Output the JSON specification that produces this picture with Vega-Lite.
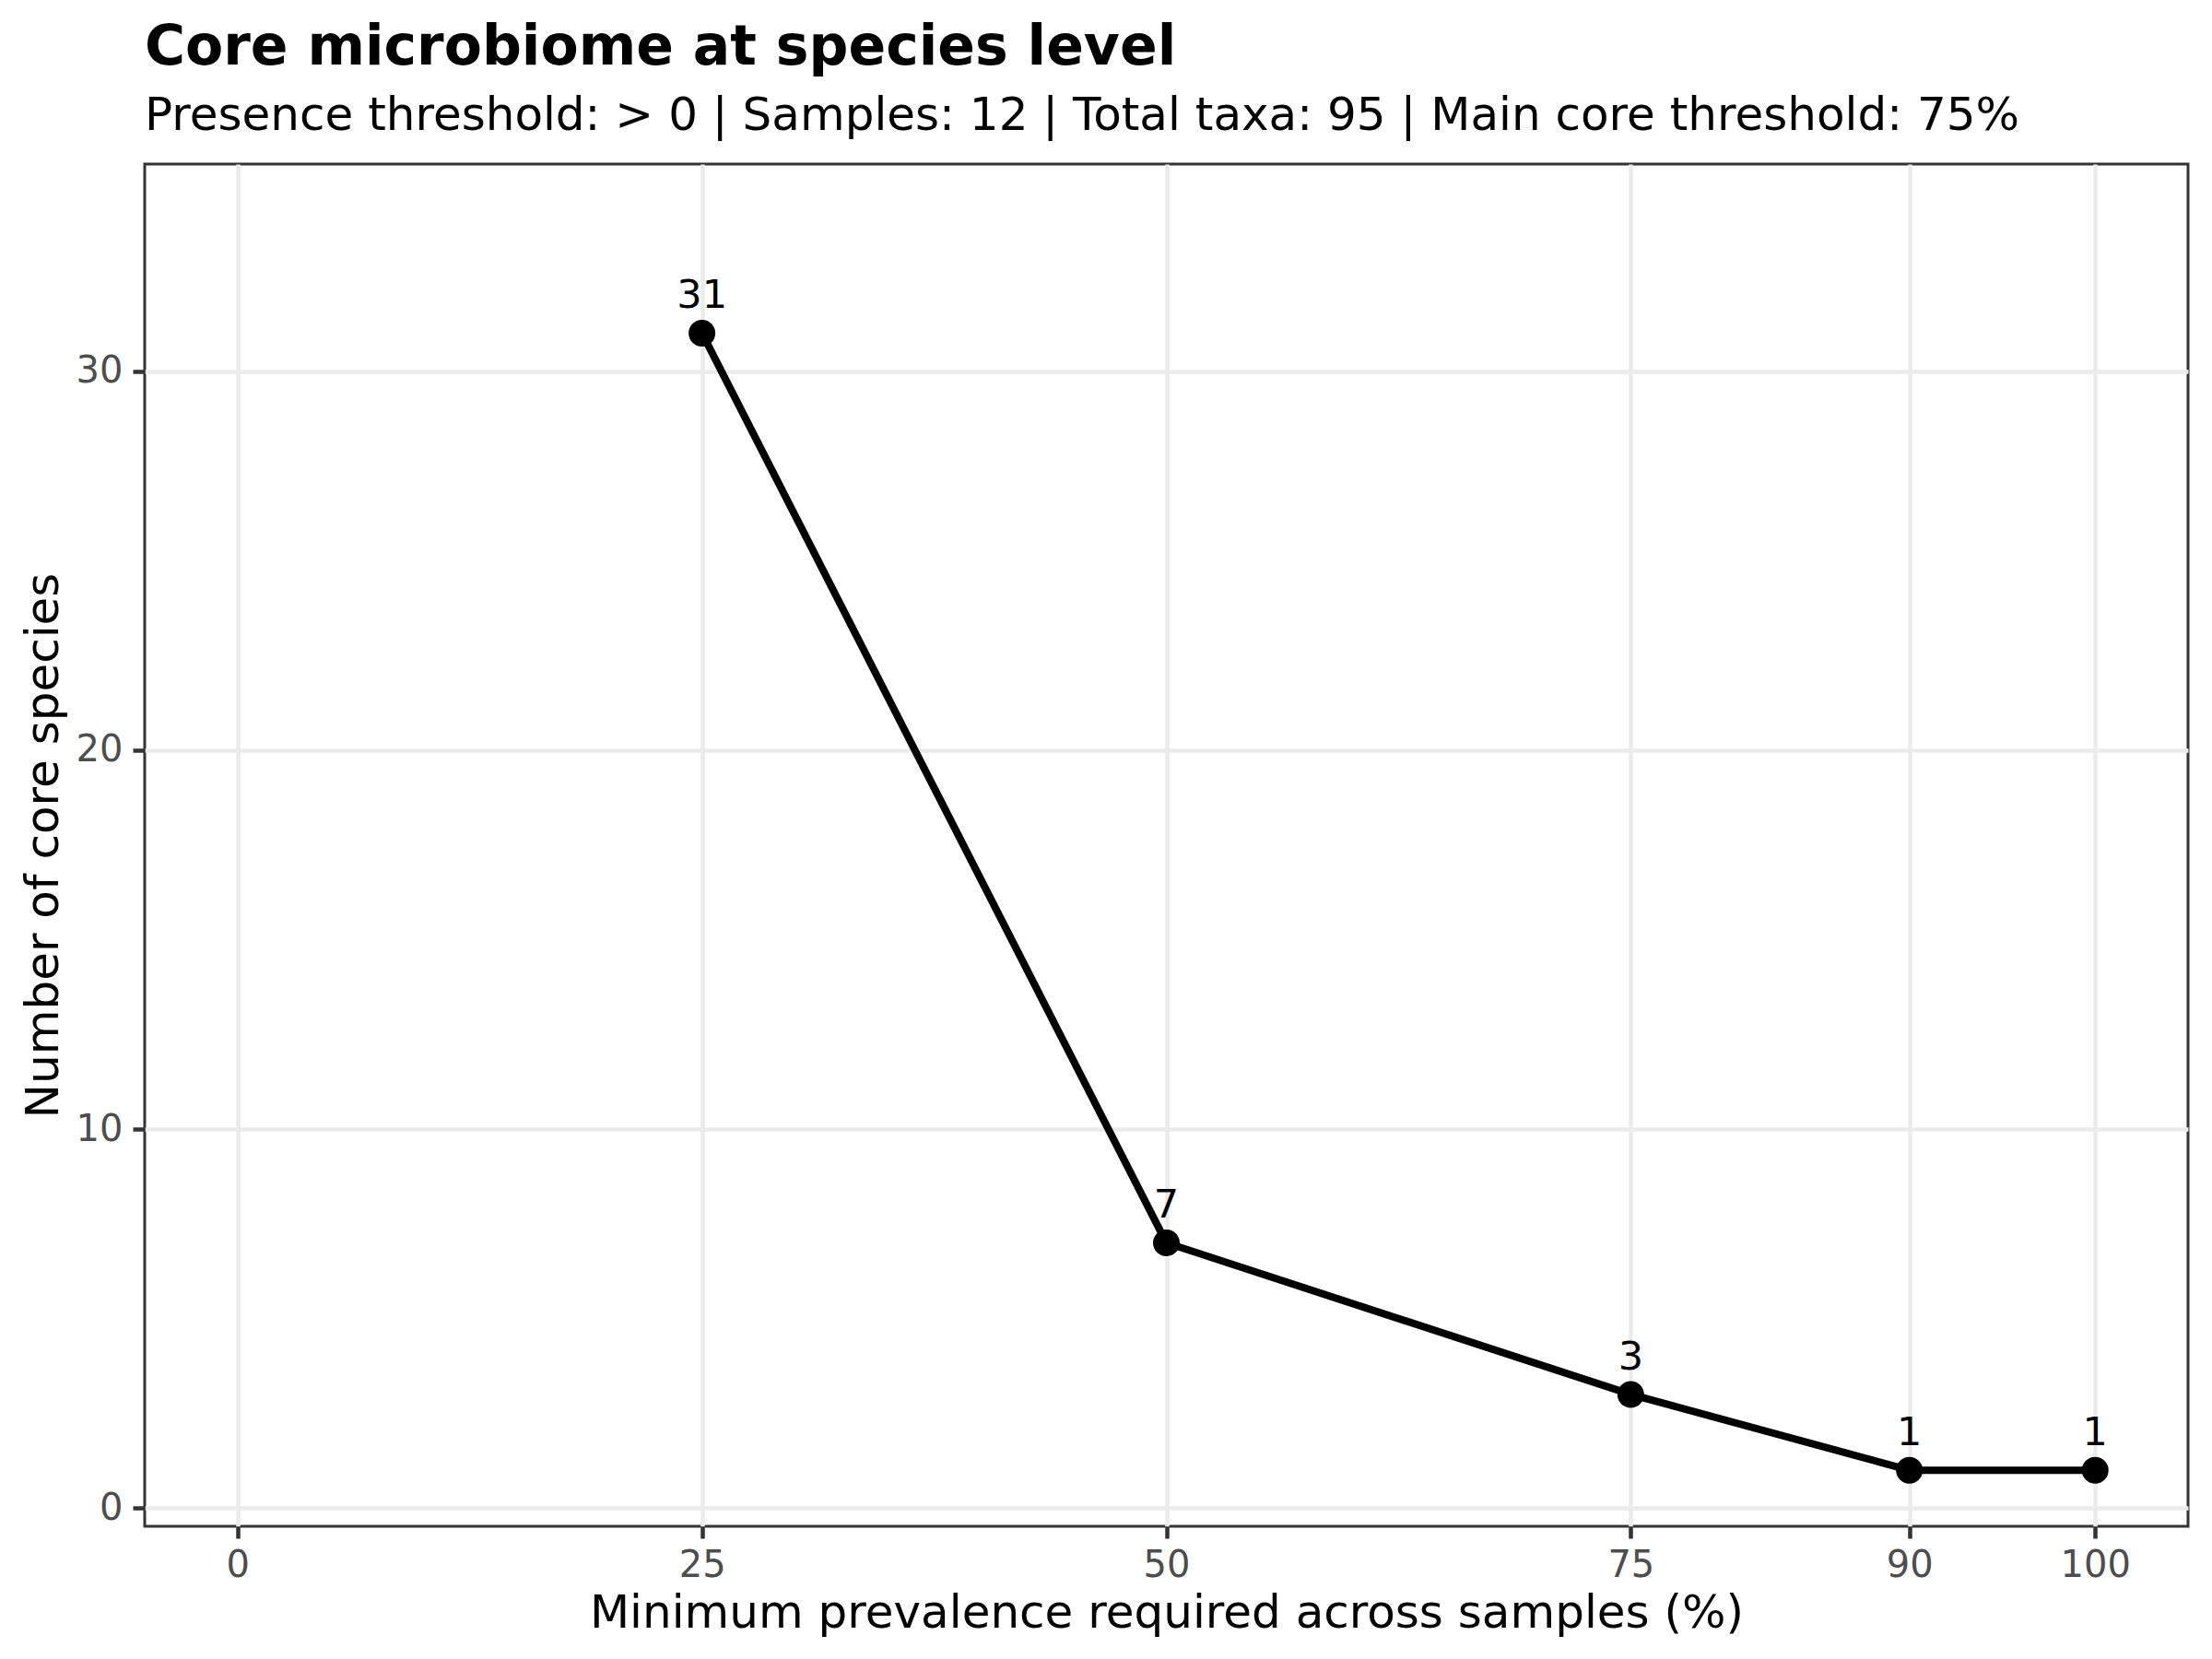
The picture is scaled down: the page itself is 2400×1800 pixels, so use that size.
{
  "$schema": "https://vega.github.io/schema/vega-lite/v6.json",
  "width": 2217,
  "height": 1478,
  "autosize": {"type": "none"},
  "padding": {"left": 157, "top": 178, "right": 26, "bottom": 144},
  "background": "white",
  "title": {
    "text": "Core microbiome at species level",
    "subtitle": "Presence threshold: > 0 | Samples: 12 | Total taxa: 95 | Main core threshold: 75%",
    "anchor": "start",
    "frame": "group",
    "font": "DejaVu Sans",
    "fontSize": 60,
    "fontWeight": "bold",
    "color": "black",
    "subtitleFont": "DejaVu Sans",
    "subtitleFontSize": 50,
    "subtitleColor": "black",
    "subtitlePadding": 18,
    "offset": 26
  },
  "config": {
    "view": {"stroke": "#333333", "strokeWidth": 3},
    "axis": {
      "domain": false,
      "grid": true,
      "gridColor": "#EBEBEB",
      "gridWidth": 4.5,
      "tickColor": "#333333",
      "tickWidth": 4.5,
      "tickSize": 13,
      "labelFont": "DejaVu Sans",
      "labelFontSize": 40,
      "labelColor": "#4D4D4D",
      "labelFlush": false,
      "labelOverlap": false,
      "labelBound": false,
      "titleFont": "DejaVu Sans",
      "titleFontSize": 50,
      "titleFontWeight": "normal",
      "titleColor": "black"
    }
  },
  "data": {
    "values": [
      {"prevalence": 25, "count": 31},
      {"prevalence": 50, "count": 7},
      {"prevalence": 75, "count": 3},
      {"prevalence": 90, "count": 1},
      {"prevalence": 100, "count": 1}
    ]
  },
  "encoding": {
    "x": {
      "field": "prevalence",
      "type": "quantitative",
      "scale": {"domain": [-5, 105], "nice": false, "zero": false},
      "axis": {
        "values": [0, 25, 50, 75, 90, 100],
        "title": "Minimum prevalence required across samples (%)",
        "labelPadding": 9,
        "titlePadding": 7
      }
    },
    "y": {
      "field": "count",
      "type": "quantitative",
      "scale": {"domain": [-0.48, 35.46], "nice": false, "zero": false},
      "axis": {
        "values": [0, 10, 20, 30],
        "title": "Number of core species",
        "labelPadding": 11,
        "titlePadding": 10
      }
    }
  },
  "layer": [
    {"mark": {"type": "line", "color": "black", "strokeWidth": 8}},
    {"mark": {"type": "circle", "color": "black", "size": 840, "opacity": 1}},
    {
      "mark": {"type": "text", "color": "black", "font": "DejaVu Sans", "fontSize": 43, "baseline": "alphabetic", "dy": -27},
      "encoding": {"text": {"field": "count", "type": "quantitative"}}
    }
  ]
}
